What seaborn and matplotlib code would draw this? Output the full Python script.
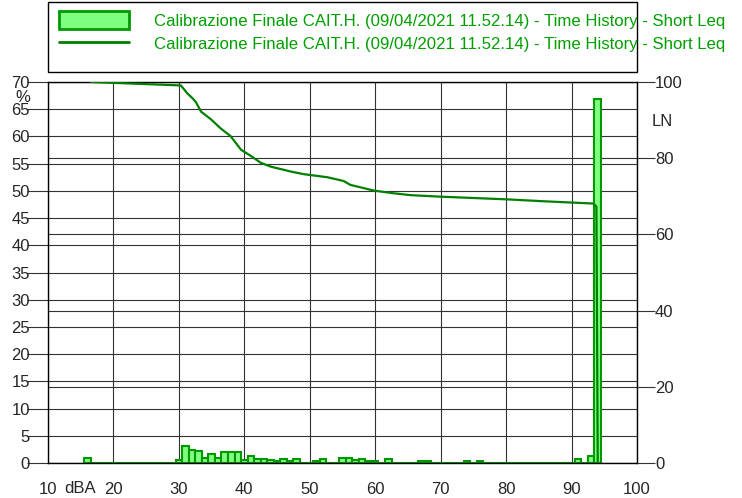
import numpy as np
import seaborn as sns
import matplotlib.pyplot as plt
from matplotlib.patches import Patch, Rectangle
from matplotlib.lines import Line2D

# Distribuzione dei livelli (dBA) - percentuale del tempo per classe di 1 dB
livelli = [16, 30, 31, 32, 33, 34, 35, 36, 37, 38, 39, 40, 41, 42, 43, 44, 45, 46,
           47, 48, 51, 52, 55, 56, 57, 58, 59, 60, 62, 67, 68, 74, 76, 91, 93, 94]
percentuali = [1.0, 0.6, 3.1, 2.45, 2.2, 1.0, 1.7, 1.0, 2.05, 2.05, 2.05, 0.6, 1.35,
               0.7, 0.7, 0.5, 0.4, 0.7, 0.3, 0.7, 0.4, 0.7, 1.0, 1.0, 0.5, 0.7, 0.4,
               0.3, 0.8, 0.4, 0.4, 0.4, 0.4, 0.75, 1.35, 66.8]

# Curva LN (livelli percentili)
ln_x = [16.6, 30.3, 31.3, 32.1, 32.6, 33.4, 34.9, 36.4, 37.9, 39.5, 41.0, 42.5, 44.0,
        47.1, 49.1, 52.7, 55.2, 56.2, 59.8, 62.8, 65.4, 70.0, 80.1, 85.7, 93.3, 93.8, 94.0]
ln_y = [100, 99.1, 97.0, 95.7, 94.7, 92.2, 90.2, 87.8, 85.8, 82.2, 80.6, 78.8, 77.8,
        76.5, 75.8, 75.0, 74.0, 73.0, 71.5, 70.8, 70.3, 69.9, 69.2, 68.7, 68.1, 67.3, 0]

x_ticks = list(range(10, 101, 10))
y_ticks = list(range(0, 71, 5))
ln_ticks = [0, 20, 40, 60, 80, 100]
etichetta = "Calibrazione Finale CAIT.H. (09/04/2021 11.52.14) - Time History - Short Leq"

sns.set_style("white")
plt.rcParams['font.family'] = ['Liberation Sans', 'DejaVu Sans']

fig = plt.figure(figsize=(7.42, 4.98), dpi=100)
ax = fig.add_axes([48/742, 35/498, 589/742, 381/498])

grid_col = '#333333'
for v in x_ticks:
    ax.axvline(v, color=grid_col, lw=0.8, zorder=0)
for v in y_ticks:
    ax.axhline(v, color=grid_col, lw=0.8, zorder=0)
for v in ln_ticks:
    ax.axhline(v * 70 / 100, color=grid_col, lw=0.8, zorder=0)

bordi = [b + 0.5 for b in range(15, 95)]
sns.histplot(x=livelli, weights=percentuali, bins=bordi, ax=ax,
             facecolor='#80ff80', edgecolor='#009a00', linewidth=1.5, alpha=1, zorder=2)

ax.set_xlim(10, 100)
ax.set_ylim(0, 70)
ax.set_xticks(x_ticks)
ax.set_yticks(y_ticks)
ax.set_xlabel('')
ax.set_ylabel('')
ax.tick_params(axis='x', length=7, width=0.8, color=grid_col, labelsize=12, pad=7)
ax.tick_params(axis='y', length=15, width=0.8, color=grid_col, labelsize=12, pad=-2)
for s in ax.spines.values():
    s.set_color('black')
    s.set_linewidth(1)

ax2 = ax.twinx()
sns.lineplot(x=ln_x, y=ln_y, ax=ax2, color='#008000', lw=1.6, estimator=None, sort=False)
ax2.set_ylim(0, 100)
ax2.set_yticks(ln_ticks)
ax2.tick_params(axis='y', length=13, width=0.8, color=grid_col, labelsize=12, pad=0)
ax2.grid(False)
for s in ax2.spines.values():
    s.set_visible(False)

fig.text(23/742, 1 - 97/498, '%', fontsize=12, ha='center', va='center')
fig.text(80/742, 1 - 488/498, 'dBA', fontsize=12, ha='center', va='center')
fig.text(662/742, 1 - 121/498, 'LN', fontsize=12, ha='center', va='center')

# Legenda
fig.add_artist(Rectangle((48/742, 1 - 72/498), 589/742, 70/498,
                         transform=fig.transFigure, fill=False, ec='black', lw=1))
handles = [Patch(facecolor='#80ff80', edgecolor='#009a00', lw=2),
           Line2D([], [], color='#008000', lw=2)]
fig.legend(handles, [etichetta, etichetta], loc='upper left',
           bbox_to_anchor=(59/742, 1 - 11/498), frameon=False, fontsize=12.05,
           labelcolor='#00a000', handlelength=4.2, handleheight=1.3,
           handletextpad=1.45, labelspacing=0.3, borderpad=0, borderaxespad=0)

fig.savefig('out.png', dpi=100)
